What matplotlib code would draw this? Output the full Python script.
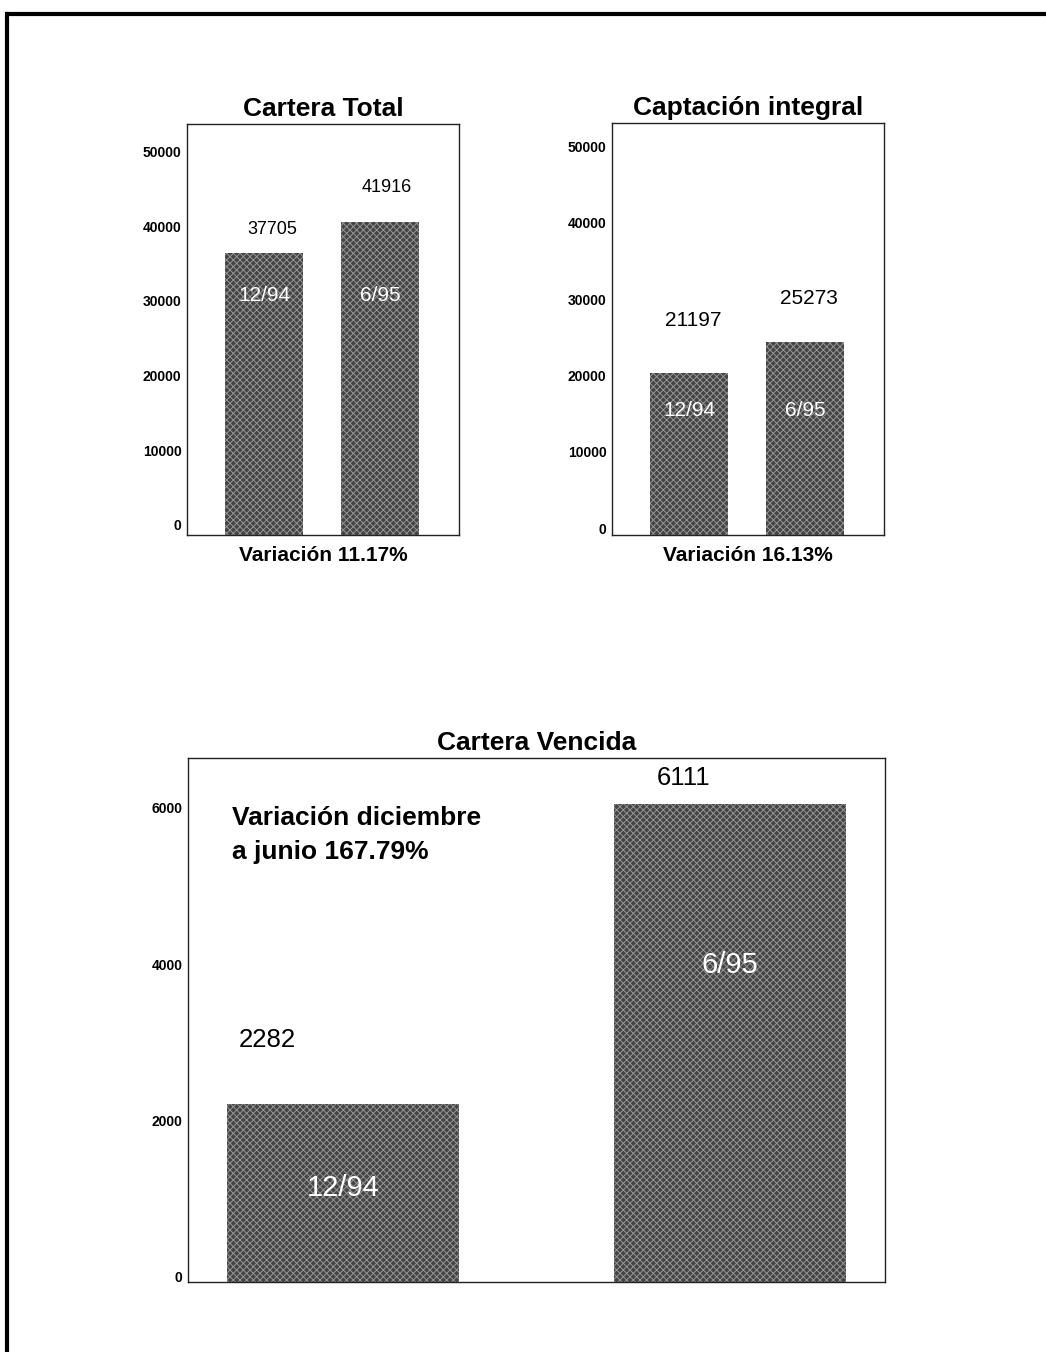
import matplotlib
matplotlib.use('Agg')
import matplotlib.pyplot as plt
from matplotlib.transforms import ScaledTranslation
from matplotlib.lines import Line2D

plt.rcParams['font.family'] = ['Liberation Sans', 'DejaVu Sans']
plt.rcParams['hatch.linewidth'] = 0.7

# data
periodos = ['12/94', '6/95']
cartera_total = [37705, 41916]
captacion_integral = [21197, 25273]
cartera_vencida = [2282, 6111]
ticks_top = [0, 10000, 20000, 30000, 40000, 50000]
ticks_bottom = [0, 2000, 4000, 6000]
var_total = 'Variación 11.17%'
var_captacion = 'Variación 16.13%'
var_vencida = 'Variación diciembre\na junio 167.79%'

W, H = 1046, 1352
fig = plt.figure(figsize=(W / 100, H / 100), dpi=100)


def rect(l, t, r, b):
    return [l / W, 1 - b / H, (r - l) / W, (b - t) / H]


def panel(ax, values, title, ymax, yticks, xlim, width, tick_shift,
          val_fs, val_off, inner_fs, inner_y):
    x = list(range(len(values)))
    ax.bar(x, values, width=width, color='#444444', edgecolor='#959595',
           hatch='xxxxx', linewidth=0)
    ax.set_xlim(*xlim)
    ax.set_ylim(0, ymax)
    ax.set_xticks([])
    ax.set_yticks(yticks, [str(t) for t in yticks])
    ax.tick_params(axis='y', length=0, pad=4, labelsize=10)
    for lab in ax.get_yticklabels():
        lab.set_fontweight('bold')
        lab.set_transform(lab.get_transform() +
                          ScaledTranslation(0, tick_shift / 100, fig.dpi_scale_trans))
    for s in ax.spines.values():
        s.set_linewidth(1.0)
        s.set_color('#222222')
    ax.set_title(title, fontsize=19, fontweight='bold', pad=6)
    for i, v in enumerate(values):
        ax.annotate(str(v), (x[i], v), xytext=val_off[i], textcoords='offset pixels',
                    ha='center', va='center', fontsize=val_fs)
        ax.text(x[i], inner_y[i], periodos[i], transform=ax.get_xaxis_transform(),
                ha='center', va='center', color='white', fontsize=inner_fs)


ax1 = fig.add_axes(rect(187, 124, 459, 535))
panel(ax1, cartera_total, 'Cartera Total', 55000, ticks_top, (-0.664, 1.681), 0.67, 10,
      13, [(8, 24), (7, 34)], 15, [0.583, 0.583])
ax1.set_xlabel(var_total, fontsize=15, fontweight='bold', labelpad=8)

ax2 = fig.add_axes(rect(612, 123, 884, 535))
panel(ax2, captacion_integral, 'Captación integral', 54000, ticks_top, (-0.664, 1.681), 0.67, 7,
      15, [(4, 53), (4, 44)], 15, [0.303, 0.303])
ax2.set_xlabel(var_captacion, fontsize=15, fontweight='bold', labelpad=8)

ax3 = fig.add_axes(rect(188, 758, 885, 1282))
panel(ax3, cartera_vencida, 'Cartera Vencida', 6700, ticks_bottom, (-0.401, 1.402), 0.6, 5,
      18.5, [(-76, 64), (-46, 26)], 21, [0.179, 0.605])
ax3.text(0.063, 0.853, var_vencida, transform=ax3.transAxes, ha='left', va='center',
         fontsize=19, fontweight='bold', linespacing=1.55)

# page frame of the scanned sheet
fig.add_artist(Line2D([8 / W, 1], [1 - 14 / H, 1 - 14 / H], color='black', lw=3))
fig.add_artist(Line2D([7 / W, 7 / W], [0, 1 - 14 / H], color='black', lw=3))

fig.savefig('out.png', dpi=100, facecolor='white')
